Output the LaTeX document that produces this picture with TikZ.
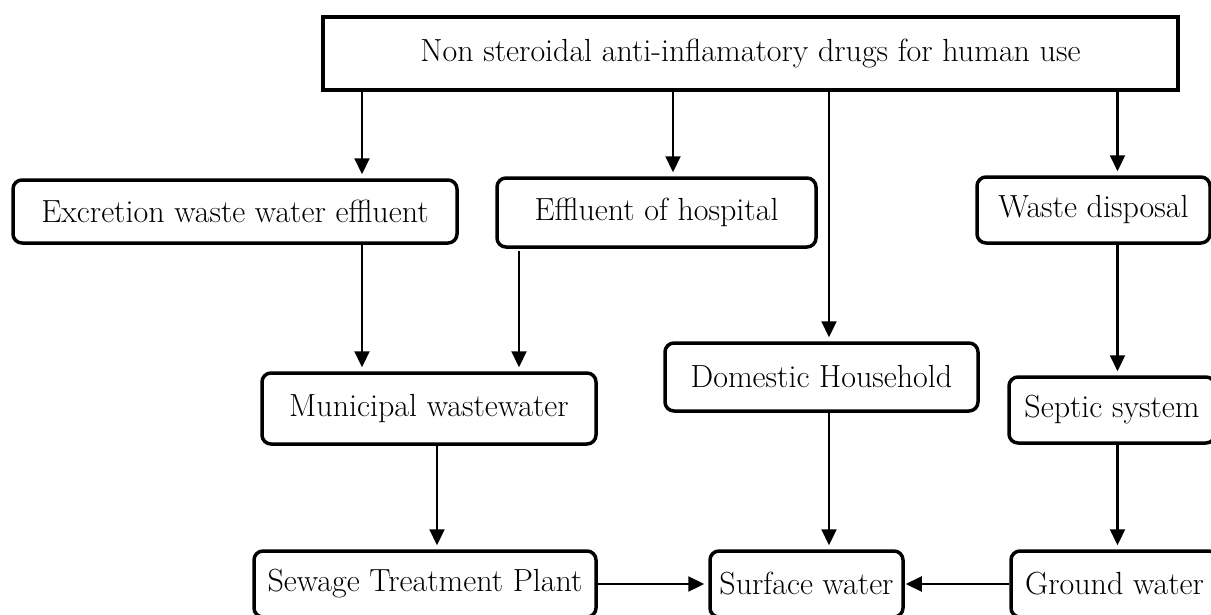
\documentclass[tikz,border=0pt]{standalone}
\usepackage{fontspec}
\usetikzlibrary{arrows.meta}

\begin{document}
\begin{tikzpicture}[x=1pt,y=-1pt,->,>={Triangle[width=15pt,length=16pt]},shorten >=4pt,line width=2.2pt]
  \tikzstyle{every node}=[font=\fontsize{32}{38}\selectfont]
  \tikzstyle{source}=[draw,line width=3.3pt,minimum height=73pt]
  \tikzstyle{box}=[draw,line width=3.5pt,rounded corners=9pt]
  \useasboundingbox (0,0) rectangle (1211,614);
  % columns of the vertical arrows
  \coordinate (c1) at (362,0);
  \coordinate (c2) at (673,0);
  \coordinate (c3) at (829,0);
  \coordinate (c4) at (1117.5,0);
  \coordinate (c5) at (519,0);
  \coordinate (c6) at (437,0);
  \node[source,minimum width=855pt] (drugs) at (750.5,53.5) {Non steroidal anti-inflamatory drugs for human use};
  \node[box,minimum width=444pt,minimum height=63pt] (excretion) at (235,211.5) {Excretion waste water effluent};
  \node[box,minimum width=319pt,minimum height=69pt] (hospital) at (656.5,212.5) {Effluent of hospital};
  \node[box,minimum width=233pt,minimum height=66pt] (disposal) at (1093.5,210) {Waste disposal};
  \node[box,minimum width=334pt,minimum height=71pt] (municipal) at (429,408.5) {Municipal wastewater};
  \node[box,minimum width=313pt,minimum height=68pt] (household) at (821.5,377) {Domestic Household};
  \node[box,minimum width=206pt,minimum height=66pt] (septic) at (1112,410) {Septic system};
  \node[box,minimum width=342pt,minimum height=66pt] (sewage) at (425,584) {Sewage Treatment Plant};
  \node[box,minimum width=193pt,minimum height=66pt] (surface) at (806.5,584) {Surface water};
  \node[box,minimum width=207pt,minimum height=66pt] (ground) at (1114.5,584) {Ground water};
  \path (drugs.south -| c1) edge (excretion.north -| c1)
        (drugs.south -| c2) edge (hospital.north -| c2)
        (drugs.south -| c3) edge (household.north -| c3)
        (drugs.south -| c4) edge (disposal.north -| c4)
        (excretion.south -| c1) edge (municipal.north -| c1)
        (hospital.south -| c5) edge [shorten <=2pt] (municipal.north -| c5)
        (municipal.south -| c6) edge (sewage.north -| c6)
        (household.south -| c3) edge (surface.north -| c3)
        (disposal.south -| c4) edge (septic.north -| c4)
        (septic.south -| c4) edge (ground.north -| c4)
        (sewage) edge (surface)
        (ground) edge [shorten >=1pt] (surface);
\end{tikzpicture}
\end{document}
